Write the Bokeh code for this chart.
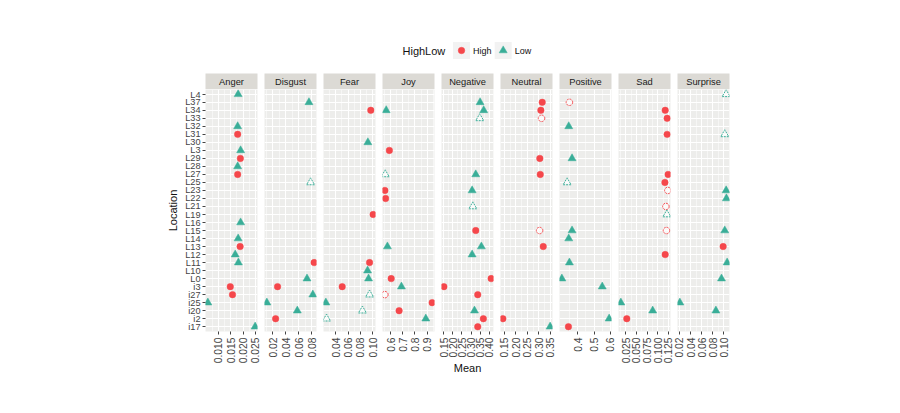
import math
from bokeh.plotting import figure
from bokeh.layouts import column, row
from bokeh.models import FactorRange, Range1d, FixedTicker, PrintfTickFormatter, ColumnDataSource
from bokeh.embed import file_html
from bokeh.resources import INLINE
from bokeh.core.properties import value

# ---------------- data ----------------
FACETS = ["Anger", "Disgust", "Fear", "Joy", "Negative", "Neutral", "Positive", "Sad", "Surprise"]

# bottom -> top order of the Location axis
LOCATIONS = ["i17", "i2", "i20", "i25", "i27", "i3", "L0", "L10", "L11", "L12", "L13", "L14",
             "L15", "L16", "L19", "L21", "L22", "L23", "L25", "L27", "L28", "L29", "L3", "L30",
             "L31", "L32", "L33", "L34", "L37", "L4"]

# (Location, Mean, HighLow, faint)
ANGER = [("L4", 0.0180, "Low", 0), ("L32", 0.0178, "Low", 0), ("L31", 0.0178, "High", 0),
         ("L3", 0.0190, "Low", 0), ("L29", 0.0189, "High", 0), ("L28", 0.0178, "Low", 0),
         ("L27", 0.0178, "High", 0), ("L16", 0.0190, "Low", 0), ("L14", 0.0180, "Low", 0),
         ("L13", 0.0188, "High", 0), ("L12", 0.0168, "Low", 0), ("L11", 0.0181, "Low", 0),
         ("i3", 0.0148, "High", 0), ("i27", 0.0157, "High", 0), ("i25", 0.0057, "Low", 0),
         ("i17", 0.0249, "Low", 0)]
DISGUST = [("L37", 0.076, "Low", 0), ("L25", 0.0785, "Low", 1), ("L0", 0.073, "Low", 0),
           ("L11", 0.084, "High", 0), ("i3", 0.0275, "High", 0), ("i27", 0.082, "Low", 0),
           ("i25", 0.011, "Low", 0), ("i20", 0.058, "Low", 0), ("i2", 0.0245, "High", 0)]
FEAR = [("L34", 0.0968, "High", 0), ("L30", 0.0921, "Low", 0), ("L19", 0.1006, "High", 0),
        ("L11", 0.0948, "High", 0), ("L10", 0.0916, "Low", 0), ("L0", 0.0932, "Low", 0),
        ("i3", 0.0506, "High", 0), ("i27", 0.0948, "Low", 1), ("i25", 0.0242, "Low", 0),
        ("i20", 0.0833, "Low", 1), ("i2", 0.0253, "Low", 1)]
JOY = [("L34", 0.564, "Low", 0), ("L3", 0.590, "High", 0), ("L27", 0.556, "Low", 1),
       ("L23", 0.553, "High", 0), ("L22", 0.559, "High", 0), ("L13", 0.574, "Low", 0),
       ("L0", 0.605, "High", 0), ("i3", 0.689, "Low", 0), ("i27", 0.553, "High", 1),
       ("i25", 0.941, "High", 0), ("i20", 0.670, "High", 0), ("i2", 0.889, "Low", 0)]
NEGATIVE = [("L37", 0.350, "Low", 0), ("L34", 0.370, "Low", 0), ("L33", 0.348, "Low", 1),
            ("L27", 0.326, "Low", 0), ("L23", 0.306, "Low", 0), ("L21", 0.310, "Low", 1),
            ("L15", 0.326, "High", 0), ("L13", 0.357, "Low", 0), ("L12", 0.306, "Low", 0),
            ("L0", 0.411, "High", 0), ("i3", 0.150, "High", 0), ("i27", 0.337, "High", 0),
            ("i20", 0.319, "Low", 0), ("i2", 0.368, "High", 0), ("i17", 0.337, "High", 0)]
NEUTRAL = [("L37", 0.3145, "High", 0), ("L34", 0.3085, "High", 0), ("L33", 0.3115, "High", 1),
           ("L29", 0.304, "High", 0), ("L27", 0.306, "High", 0), ("L15", 0.303, "High", 1),
           ("L13", 0.319, "High", 0), ("i2", 0.143, "High", 0), ("i17", 0.349, "Low", 0)]
POSITIVE = [("L37", 0.350, "High", 1), ("L32", 0.346, "Low", 0), ("L29", 0.366, "Low", 0),
            ("L25", 0.336, "Low", 1), ("L15", 0.366, "Low", 0), ("L14", 0.346, "Low", 0),
            ("L11", 0.350, "Low", 0), ("L0", 0.304, "Low", 0), ("i3", 0.550, "Low", 0),
            ("i2", 0.592, "Low", 0), ("i17", 0.344, "High", 0)]
SAD = [("L34", 0.1176, "High", 0), ("L33", 0.1222, "High", 0), ("L31", 0.1222, "High", 0),
       ("L27", 0.1245, "High", 0), ("L25", 0.1169, "High", 0), ("L23", 0.1238, "High", 1),
       ("L21", 0.1192, "High", 1), ("L19", 0.1215, "Low", 1), ("L15", 0.1206, "High", 1),
       ("L12", 0.1176, "High", 0), ("i25", 0.0134, "Low", 0), ("i20", 0.0882, "Low", 0),
       ("i2", 0.0273, "High", 0)]
SURPRISE = [("L4", 0.1043, "Low", 1), ("L31", 0.1018, "Low", 1), ("L23", 0.1043, "Low", 0),
            ("L22", 0.1048, "Low", 0), ("L15", 0.1018, "Low", 0), ("L13", 0.0989, "High", 0),
            ("L11", 0.1061, "Low", 0), ("L0", 0.0959, "Low", 0), ("i25", 0.0207, "Low", 0),
            ("i20", 0.0858, "Low", 0)]

ANGER_TICKS = ["0.010", "0.015", "0.020", "0.025"]
DISGUST_TICKS = ["0.02", "0.04", "0.06", "0.08"]
FEAR_TICKS = ["0.04", "0.06", "0.08", "0.10"]
JOY_TICKS = ["0.6", "0.7", "0.8", "0.9"]
NEGATIVE_TICKS = ["0.15", "0.20", "0.25", "0.30", "0.35", "0.40"]
NEUTRAL_TICKS = ["0.15", "0.20", "0.25", "0.30", "0.35"]
POSITIVE_TICKS = ["0.4", "0.5", "0.6"]
SAD_TICKS = ["0.025", "0.050", "0.075", "0.100", "0.125"]
SURPRISE_TICKS = ["0.02", "0.04", "0.06", "0.08", "0.10"]

POINTS = [ANGER, DISGUST, FEAR, JOY, NEGATIVE, NEUTRAL, POSITIVE, SAD, SURPRISE]
TICKS = [ANGER_TICKS, DISGUST_TICKS, FEAR_TICKS, JOY_TICKS, NEGATIVE_TICKS, NEUTRAL_TICKS,
         POSITIVE_TICKS, SAD_TICKS, SURPRISE_TICKS]
GROUPS = ["High", "Low"]

# ---------------- style ----------------
FONT = "Liberation Sans"
COLORS = {"High": "#F5474B", "Low": "#3AAE98"}
MARKERS = {"High": "circle", "Low": "triangle"}
SIZES = {"High": 6.5, "Low": 8}
PANEL_BG = "#EDEDEB"
STRIP_BG = "#DCDAD5"
AXIS_TEXT = "#444444"

LEFT = 205
PW = 52
GAP = 7
HEADER_H = 89
TOTAL_H = 413
BOTTOM = 82


def make_panel(i, name, pts, tick_labels):
    first = i == 0
    xs = [pt[1] for pt in pts]
    lo, hi = min(xs), max(xs)
    pad = 0.05 * (hi - lo)
    bl = LEFT if first else 3
    p = figure(width=bl + PW + 4, height=TOTAL_H - HEADER_H,
               x_range=Range1d(lo - pad, hi + pad),
               y_range=FactorRange(factors=LOCATIONS, range_padding=0.1,
                                   range_padding_units="absolute"),
               y_axis_location="left" if first else None,
               output_backend="svg", toolbar_location=None,
               min_border_left=bl, min_border_right=4, min_border_top=0,
               min_border_bottom=BOTTOM)
    p.background_fill_color = PANEL_BG
    p.border_fill_color = "white"
    p.outline_line_color = None

    ticks = [float(s) for s in tick_labels]
    step = ticks[1] - ticks[0]
    minor = [t - step / 2 for t in ticks] + [ticks[-1] + step / 2]
    dec = len(tick_labels[0].split(".")[1])
    ax = p.xaxis[0]
    ax.ticker = FixedTicker(ticks=ticks, minor_ticks=minor)
    ax.formatter = PrintfTickFormatter(format="%%.%df" % dec)
    ax.major_label_orientation = math.pi / 2
    ax.axis_line_color = None
    ax.major_tick_line_color = AXIS_TEXT
    ax.major_tick_out = 3
    ax.major_tick_in = 0
    ax.minor_tick_line_color = None
    ax.major_label_text_font = FONT
    ax.major_label_text_font_size = "10.3px"
    ax.major_label_text_color = AXIS_TEXT
    ax.major_label_standoff = 2
    if name == "Negative":
        ax.axis_label = "Mean"
        ax.axis_label_text_font = FONT
        ax.axis_label_text_font_size = "11px"
        ax.axis_label_text_font_style = "normal"
        ax.axis_label_text_color = "#111111"
        ax.axis_label_standoff = 1

    if first:
        yax = p.yaxis[0]
        yax.axis_line_color = None
        yax.major_tick_line_color = AXIS_TEXT
        yax.major_tick_out = 3
        yax.major_tick_in = 0
        yax.major_label_text_font = FONT
        yax.major_label_text_font_size = "9.2px"
        yax.major_label_text_color = AXIS_TEXT
        yax.major_label_standoff = 2
        yax.axis_label = "Location"
        yax.axis_label_text_font = FONT
        yax.axis_label_text_font_size = "11px"
        yax.axis_label_text_font_style = "normal"
        yax.axis_label_text_color = "#111111"
        yax.axis_label_standoff = 3

    p.xgrid.grid_line_color = "white"
    p.xgrid.grid_line_width = 1.1
    p.xgrid.minor_grid_line_color = "white"
    p.xgrid.minor_grid_line_width = 0.5
    p.ygrid.grid_line_color = "white"
    p.ygrid.grid_line_width = 1.1

    for g in GROUPS:
        for faint in (0, 1):
            sel = [pt for pt in pts if pt[2] == g and pt[3] == faint]
            if not sel:
                continue
            src = ColumnDataSource(dict(x=[s[1] for s in sel], y=[s[0] for s in sel]))
            if faint:
                p.scatter("x", "y", source=src, marker=MARKERS[g], size=SIZES[g],
                          fill_color="white", fill_alpha=0.6, line_color=COLORS[g],
                          line_dash="2 1", line_width=1)
            else:
                p.scatter("x", "y", source=src, marker=MARKERS[g], size=SIZES[g],
                          fill_color=COLORS[g], line_color=COLORS[g], line_width=0.5)
    return p


# ---------------- header: legend + facet strips ----------------
header = figure(width=900, height=HEADER_H, x_range=Range1d(0, 900),
                y_range=Range1d(HEADER_H, 0), x_axis_location=None, y_axis_location=None,
                output_backend="svg", toolbar_location=None,
                min_border=0)
header.xgrid.visible = False
header.ygrid.visible = False
header.outline_line_color = None
header.background_fill_color = "white"
header.border_fill_color = "white"

strip_x = [LEFT + i * (PW + GAP) + PW / 2 for i in range(len(FACETS))]
header.rect(x=strip_x, y=81, width=PW, height=16, fill_color=STRIP_BG, line_color=None)
header.text(x=strip_x, y=81.5, text=FACETS, text_font=value(FONT),
            text_font_size=value("9.3px"), text_color="#1a1a1a",
            text_align="center", text_baseline="middle")

# legend
header.text(x=[402], y=[50], text=["HighLow"], text_font=value(FONT),
            text_font_size=value("11px"), text_color="#111111",
            text_align="left", text_baseline="middle")
key_x = [461, 502.7]
header.rect(x=key_x, y=50, width=17, height=17, fill_color="#F2F2F2", line_color=None)
for kx, g in zip(key_x, GROUPS):
    header.scatter(x=[kx], y=[50], marker=MARKERS[g], size=SIZES[g],
                   fill_color=COLORS[g], line_color=COLORS[g], line_width=0.5)
    header.text(x=[kx + 11.5], y=[50], text=[g], text_font=value(FONT),
                text_font_size=value("9px"), text_color="#111111",
                text_align="left", text_baseline="middle")

panels = [make_panel(i, n, pts, tk) for i, (n, pts, tk) in enumerate(zip(FACETS, POINTS, TICKS))]
layout = column(header, row(*panels, spacing=0), spacing=0)

open("out.html", "w").write(file_html(layout, INLINE))
